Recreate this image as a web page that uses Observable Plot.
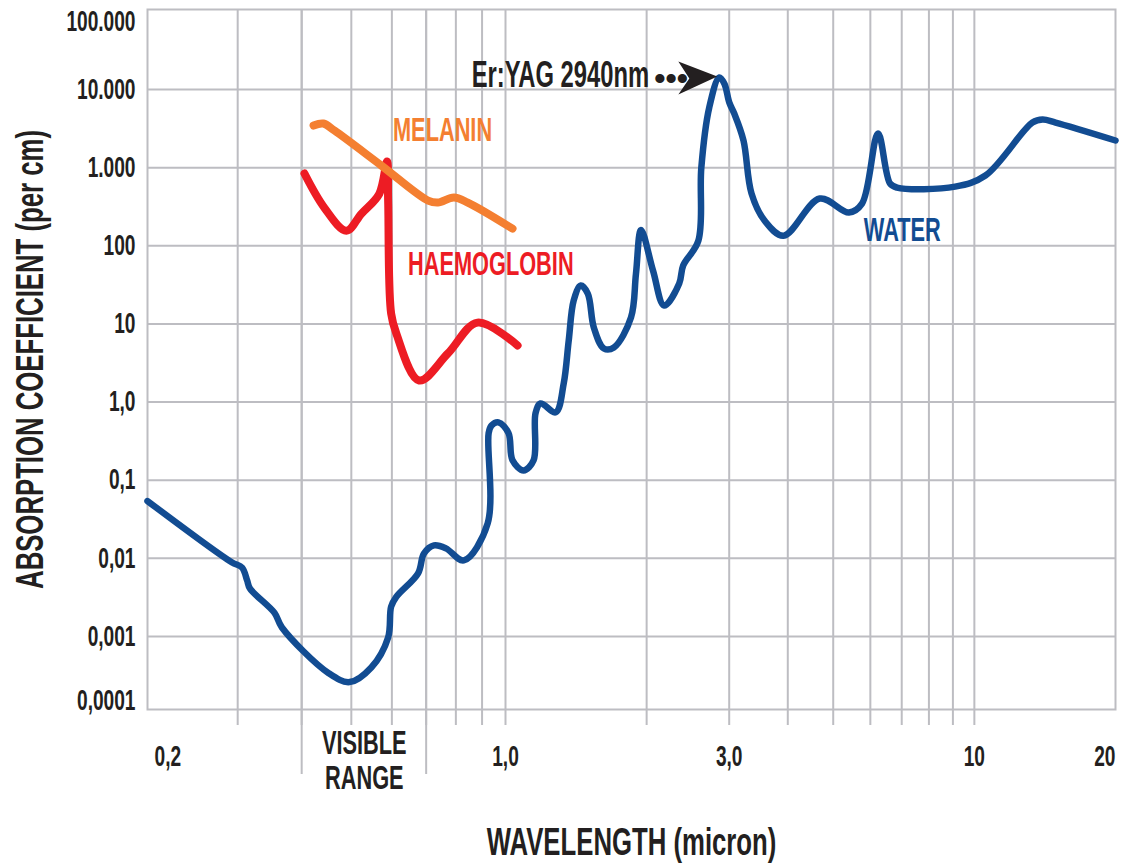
<!DOCTYPE html>
<html>
<head>
<meta charset="utf-8">
<script src="https://cdn.jsdelivr.net/npm/d3@7"></script>
<script src="https://cdn.jsdelivr.net/npm/@observablehq/plot@0.6"></script>
<style>
  html, body { margin: 0; padding: 0; background: #fff; }
  #chart svg { display: block; }
</style>
</head>
<body>
<div id="chart"></div>
<script>
// ---- Data ----
const waterWavelength = [0.2, 0.292, 0.306, 0.313, 0.317, 0.354, 0.366, 0.451, 0.496, 0.547, 0.590, 0.598, 0.612, 0.675, 0.693, 0.725, 0.765, 0.829, 0.923, 0.927, 0.939, 0.969, 1.015, 1.035, 1.093, 1.148, 1.159, 1.188, 1.28, 1.331, 1.364, 1.398, 1.447, 1.498, 1.543, 1.621, 1.703, 1.852, 1.898, 1.946, 2.064, 2.18, 2.347, 2.393, 2.578, 2.616, 2.72, 2.858, 2.93, 3.002, 3.077, 3.218, 3.347, 3.568, 3.918, 4.68, 5.4, 5.76, 6.23, 6.61, 6.84, 9.1, 10.56, 13.3, 13.98, 14.9, 20];
const waterAbsorption = [0.054, 0.0089, 0.0076, 0.0052, 0.0041, 0.002, 0.0013, 0.00034, 0.00026, 0.0004, 0.00097, 0.0024, 0.0032, 0.0064, 0.0115, 0.0146, 0.0134, 0.0094, 0.028, 0.40, 0.50, 0.55, 0.40, 0.18, 0.133, 0.18, 0.72, 0.96, 0.74, 1.73, 6.1, 20, 31, 24.5, 9.0, 4.85, 5.0, 12.1, 44, 160, 48, 17.2, 33, 56, 116, 1000, 5900, 14300, 11900, 6800, 4900, 2230, 470, 211, 135, 403, 267, 347, 2740, 627, 557, 573, 794, 3780, 4130, 3780, 2230];

const haemoglobinWavelength = [0.405, 0.443, 0.489, 0.523, 0.567, 0.587, 0.590, 0.598, 0.612, 0.678, 0.772, 0.882, 1.061];
const haemoglobinAbsorption = [843, 307, 156, 257, 464, 1200, 381, 13.6, 7.55, 1.89, 4.19, 10.4, 5.3];

const melaninWavelength = [0.422, 0.441, 0.4635, 0.572, 0.706, 0.738, 0.793, 0.844, 1.035];
const melaninAbsorption = [3470, 3680, 2990, 1070, 380, 358, 415, 358, 166];

const yTickValues = [1e-4, 1e-3, 1e-2, 0.1, 1, 10, 100, 1000, 1e4, 1e5];
const yTickLabels = ["0,0001", "0,001", "0,01", "0,1", "1,0", "10", "100", "1.000", "10.000", "100.000"];
const xTickValues = [0.2, 1, 3, 10, 20];
const xTickLabels = ["0,2", "1,0", "3,0", "10", "20"];
const xGridValues = [0.3, 0.4, 0.5, 0.6, 0.7, 0.8, 0.9, 1, 2, 3, 4, 5, 6, 7, 8, 9, 10];
const yGridValues = [1e-3, 1e-2, 0.1, 1, 10, 100, 1000, 1e4];
const visibleRange = [0.4, 0.7];

const seriesLabels = [
  {name: "MELANIN", x: 0.603, y: 2990},
  {name: "HAEMOGLOBIN", x: 0.645, y: 57.7},
  {name: "WATER", x: 5.81, y: 157}
];
const laserLabel = {text: "Er:YAG 2940nm", x: 2.024, y: 15130};
const laserDots = {text: "•••", x: 2.256, y: 13850};
const visibleLabel = {text: "VISIBLE\nRANGE", x: 0.53};

// ---- Build tables ----
const zip = (xs, ys) => xs.map((x, i) => ({x, y: ys[i]}));
const water = zip(waterWavelength, waterAbsorption);
const haemoglobin = zip(haemoglobinWavelength, haemoglobinAbsorption);
const melanin = zip(melaninWavelength, melaninAbsorption);
const yTicks = yTickValues.map((v, i) => ({v, label: yTickLabels[i]}));
const xTicks = xTickValues.map((v, i) => ({v, label: xTickLabels[i]}));
const waterPeak = d3.greatest(water, d => d.y);

// ---- Styles ----
const gridColor = "#bdbdc2";
const ink = "#231f20";
const colors = {WATER: "#124c92", HAEMOGLOBIN: "#ed1c24", MELANIN: "#f47f31"};
const font = "'Liberation Sans', Arial, sans-serif";

const arrowHead = {
  draw(ctx) {
    ctx.moveTo(0, 0);
    ctx.lineTo(-39, -15);
    ctx.lineTo(-28, 2);
    ctx.lineTo(-39, 18);
    ctx.closePath();
  }
};

const textBase = {fill: ink, fontWeight: "bold", lineAnchor: "middle"};

const chart = Plot.plot({
  width: 1122,
  height: 863,
  marginLeft: 147,
  marginRight: 7,
  marginTop: 9,
  marginBottom: 154,
  x: {type: "log", domain: [0.2, 1, 20], range: [147, 505, 1115], axis: null},
  y: {type: "log", domain: [1e-4, 1e5], range: [714, 11], axis: null},
  style: {fontFamily: font, background: "#fff", overflow: "visible"},
  marks: [
    Plot.ruleY(yGridValues, {stroke: gridColor, strokeWidth: 2}),
    Plot.ruleX(xGridValues, {stroke: gridColor, strokeWidth: 2, insetBottom: -16}),
    Plot.ruleX(visibleRange, {stroke: gridColor, strokeWidth: 2, insetBottom: -65}),
    Plot.frame({stroke: gridColor, strokeWidth: 2}),

    Plot.line(haemoglobin, {x: "x", y: "y", stroke: colors.HAEMOGLOBIN, strokeWidth: 8, curve: "catmull-rom", strokeLinejoin: "round"}),
    Plot.line(melanin, {x: "x", y: "y", stroke: colors.MELANIN, strokeWidth: 8, curve: "catmull-rom", strokeLinejoin: "round"}),
    Plot.line(water, {x: "x", y: "y", stroke: colors.WATER, strokeWidth: 6.5, curve: "catmull-rom", strokeLinejoin: "round"}),

    // y tick labels
    Plot.text(yTicks.slice(1, -1), {y: "v", text: "label", frameAnchor: "left", textAnchor: "end", dx: -12, fontSize: 29, ...textBase}),
    Plot.text(yTicks.slice(-1), {y: "v", text: "label", frameAnchor: "left", textAnchor: "end", dx: -12, dy: 10, fontSize: 29, ...textBase}),
    Plot.text(yTicks.slice(0, 1), {y: "v", text: "label", frameAnchor: "left", textAnchor: "end", dx: -12, dy: -14, fontSize: 29, ...textBase}),

    // x tick labels
    Plot.text(xTicks.slice(1, -1), {x: "v", text: "label", frameAnchor: "bottom", textAnchor: "middle", dy: 47, fontSize: 29, ...textBase}),
    Plot.text(xTicks.slice(0, 1), {x: "v", text: "label", frameAnchor: "bottom", textAnchor: "start", dx: 7, dy: 47, fontSize: 29, ...textBase}),
    Plot.text(xTicks.slice(-1), {x: "v", text: "label", frameAnchor: "bottom", textAnchor: "end", dy: 47, fontSize: 29, ...textBase}),

    Plot.text([visibleLabel], {x: "x", text: "text", frameAnchor: "bottom", textAnchor: "middle", dy: 51, lineHeight: 1.06, fontSize: 33, ...textBase}),

    // series labels
    Plot.text(seriesLabels, {x: "x", y: "y", text: "name", textAnchor: "start", lineAnchor: "middle", fontSize: 33, fontWeight: "bold", fill: d => colors[d.name]}),

    // Er:YAG annotation
    Plot.text([laserLabel], {x: "x", y: "y", text: "text", textAnchor: "end", fontSize: 36, ...textBase}),
    Plot.text([laserDots], {x: "x", y: "y", text: "text", textAnchor: "middle", fontSize: 32, ...textBase}),
    Plot.dot([waterPeak], {x: "x", y: "y", symbol: arrowHead, r: 5, fill: ink, stroke: null, dx: -2, dy: -1}),

    // axis titles
    Plot.text(["ABSORPTION COEFFICIENT (per cm)"], {text: d => d, frameAnchor: "left", textAnchor: "middle", dx: -117, rotate: -90, fontSize: 39, ...textBase}),
    Plot.text(["WAVELENGTH (micron)"], {text: d => d, frameAnchor: "bottom", textAnchor: "middle", dy: 133, fontSize: 39, ...textBase})
  ]
});

// condense the lettering like the reference's narrow typeface
chart.querySelectorAll("text").forEach(t => {
  if (/^[•\s]+$/.test(t.textContent)) return;
  const tr = t.getAttribute("transform") || "";
  const x = t.getAttribute("x"), y = t.getAttribute("y");
  let pre = "";
  if ((x != null && !isNaN(+x)) || (y != null && !isNaN(+y))) {
    pre = `translate(${+x || 0},${+y || 0}) `;
    t.removeAttribute("x");
    t.removeAttribute("y");
  }
  t.setAttribute("transform", `${tr} ${pre}scale(0.66,1)`);
});

document.getElementById("chart").appendChild(chart);
</script>
</body>
</html>
